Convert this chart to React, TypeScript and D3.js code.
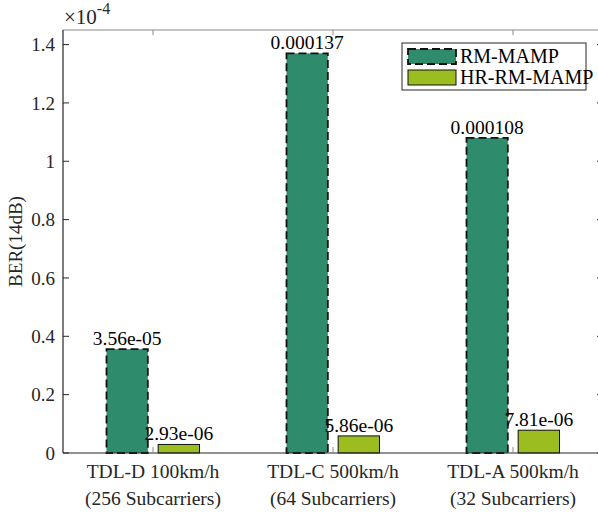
import React from 'react';
import { scaleLinear, scaleBand } from 'd3';

const categories = ['TDL-D 100km/h', 'TDL-C 500km/h', 'TDL-A 500km/h'];
const subLabels = ['(256 Subcarriers)', '(64 Subcarriers)', '(32 Subcarriers)'];
const seriesNames = ['RM-MAMP', 'HR-RM-MAMP'];
const rmValues = [3.56e-5, 1.37e-4, 1.08e-4];
const hrValues = [2.93e-6, 5.86e-6, 7.81e-6];
const valueLabels = [
  ['3.56e-05', '0.000137', '0.000108'],
  ['2.93e-06', '5.86e-06', '7.81e-06']
];
const yTicks = [0, 0.2, 0.4, 0.6, 0.8, 1, 1.2, 1.4];

const width = 598;
const height = 516;
const margin = { top: 30, right: -5, bottom: 63, left: 63 };
const font = '"Liberation Serif", "Times New Roman", serif';
const colors = ['#2e8c6c', '#9bbd1f'];

const App = () => {
  const x = scaleLinear()
    .domain([0.5, 3.5])
    .range([margin.left, width - margin.right]);
  const y = scaleLinear()
    .domain([0, 1.45e-4])
    .range([height - margin.bottom, margin.top]);
  const inner = scaleBand()
    .domain(seriesNames)
    .range([-46.5, 46.5])
    .paddingInner(0.2);

  const series = [rmValues, hrValues];
  const x0 = x.range()[0];
  const x1 = x.range()[1];
  const yb = y.range()[0];
  const yt = y.range()[1];

  return (
    <svg
      width={width}
      height={height}
      style={{ position: 'absolute', left: 0, top: 0, background: '#fff' }}
      fontFamily={font}
    >
      <rect x={0} y={0} width={width} height={height} fill="#fff" />

      {/* bars */}
      {series.map((vals, si) =>
        vals.map((v, i) => {
          const cx = x(i + 1) + inner(seriesNames[si])!;
          const bw = inner.bandwidth();
          return (
            <g key={`${si}-${i}`}>
              <rect
                x={cx}
                y={y(v)}
                width={bw}
                height={yb - y(v)}
                fill={colors[si]}
                stroke="#111"
                strokeWidth={si === 0 ? 1.8 : 1}
                strokeDasharray={si === 0 ? '8 4' : undefined}
              />
              <text
                x={cx + bw / 2}
                y={y(v) - 4}
                textAnchor="middle"
                fontSize={19.5}
                fill="#000"
              >
                {valueLabels[si][i]}
              </text>
            </g>
          );
        })
      )}

      {/* box */}
      <line x1={x0} x2={x1} y1={yt} y2={yt} stroke="#8a8a8a" strokeWidth={1.2} />
      <line x1={x1} x2={x1} y1={yt} y2={yb} stroke="#8a8a8a" strokeWidth={1.2} />
      <line x1={x0} x2={x0} y1={yt} y2={yb} stroke="#262626" strokeWidth={1.2} />
      <line x1={x0} x2={x1} y1={yb} y2={yb} stroke="#262626" strokeWidth={1.2} />

      {/* y ticks */}
      {yTicks.map(t => (
        <g key={t}>
          <line x1={x0} x2={x0 + 6} y1={y(t * 1e-4)} y2={y(t * 1e-4)} stroke="#262626" />
          <line x1={x1} x2={x1 - 6} y1={y(t * 1e-4)} y2={y(t * 1e-4)} stroke="#262626" />
          <text
            x={x0 - 8}
            y={y(t * 1e-4)}
            dy="0.35em"
            textAnchor="end"
            fontSize={19}
            fill="#262626"
          >
            {String(t)}
          </text>
        </g>
      ))}

      {/* x ticks and labels */}
      {categories.map((c, i) => (
        <g key={c}>
          <line x1={x(i + 1)} x2={x(i + 1)} y1={yb} y2={yb - 6} stroke="#8a8a8a" />
          <line x1={x(i + 1)} x2={x(i + 1)} y1={yt} y2={yt + 5} stroke="#8a8a8a" />
          <text x={x(i + 1)} y={yb + 25} textAnchor="middle" fontSize={19.5} fill="#262626">
            {c}
          </text>
          <text x={x(i + 1)} y={yb + 52} textAnchor="middle" fontSize={19.5} fill="#262626">
            {subLabels[i]}
          </text>
        </g>
      ))}

      {/* exponent */}
      <text x={x0 + 1} y={24} fontSize={21} fill="#262626">
        ×10
        <tspan dy={-10} fontSize={16}>-4</tspan>
      </text>

      {/* y label */}
      <text
        transform={`translate(22, ${(yb + yt) / 2}) rotate(-90)`}
        textAnchor="middle"
        fontSize={19}
        fill="#262626"
      >
        BER(14dB)
      </text>

      {/* legend */}
      <g>
        <rect x={402} y={43} width={184} height={47} fill="#fff" stroke="#262626" strokeWidth={1} />
        {seriesNames.map((s, si) => (
          <g key={s}>
            <rect
              x={408}
              y={49 + si * 21}
              width={48}
              height={15}
              fill={colors[si]}
              stroke="#111"
              strokeWidth={si === 0 ? 1.8 : 1}
              strokeDasharray={si === 0 ? '8 4' : undefined}
            />
            <text x={460} y={63 + si * 21} fontSize={20} fill="#000">
              {s}
            </text>
          </g>
        ))}
      </g>
    </svg>
  );
};

export default App;
